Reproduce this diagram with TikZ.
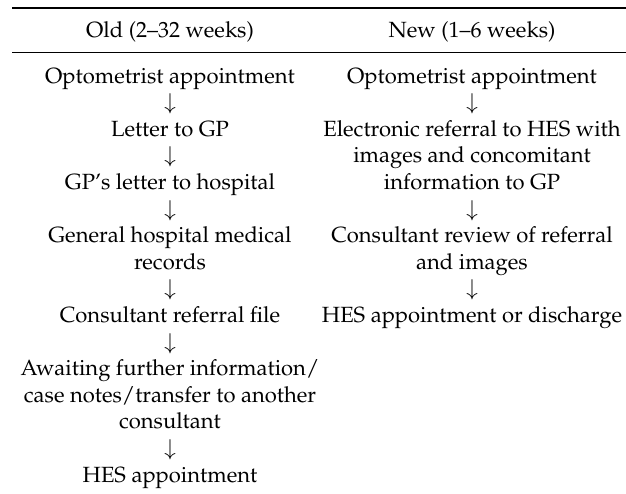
\documentclass[tikz,border=0pt]{standalone}
\usepackage[T1]{fontenc}
\usepackage{mathpazo}
\begin{document}
\begin{tikzpicture}[x=1pt,y=-1pt,
  txt/.style={anchor=base,inner sep=0pt,align=center,font=\fontsize{22}{26.6}\selectfont},
  arr/.style={anchor=base,inner sep=0pt,font=\fontsize{22}{26.6}\selectfont},
  toprule/.style={line width=2pt},
  midrule/.style={line width=1pt}]
\useasboundingbox (0,0) rectangle (626,493);
\coordinate (tl) at (12,8);
\coordinate (tr) at (626,8);
\coordinate (ml) at (12,52);
\coordinate (mr) at (626,52);
\draw[toprule] (tl) -- (tr);
\draw[midrule] (ml) -- (mr);
\node[txt] (hold) at (170,37) {Old (2--32 weeks)};
\node[txt] (hnew) at (472,37) {New (1--6 weeks)};
% old column (multi-line nodes are placed by their last baseline)
\node[txt] (o1) at (170,83) {Optometrist appointment};
\node[arr] (oa1) at (170,109.6) {$\downarrow$};
\node[txt] (o2) at (170,136.2) {Letter to GP};
\node[arr] (oa2) at (170,162.8) {$\downarrow$};
\node[txt] (o3) at (170,189.4) {GP's letter to hospital};
\node[arr] (oa3) at (170,216) {$\downarrow$};
\node[txt] (o4) at (170,269.2) {General hospital medical\\records};
\node[arr] (oa4) at (170,295.8) {$\downarrow$};
\node[txt] (o5) at (170,322.4) {Consultant referral file};
\node[arr] (oa5) at (170,349) {$\downarrow$};
\node[txt] (o6) at (170,428.8) {Awaiting further information/\\case notes/transfer to another\\consultant};
\node[arr] (oa6) at (170,455.4) {$\downarrow$};
\node[txt] (o7) at (170,482) {HES appointment};
% new column
\node[txt] (n1) at (472,83) {Optometrist appointment};
\node[arr] (na1) at (472,109.6) {$\downarrow$};
\node[txt] (n2) at (472,189.4) {Electronic referral to HES with\\images and concomitant\\information to GP};
\node[arr] (na2) at (472,216) {$\downarrow$};
\node[txt] (n3) at (472,269.2) {Consultant review of referral\\and images};
\node[arr] (na3) at (472,295.8) {$\downarrow$};
\node[txt] (n4) at (472,322.4) {HES appointment or discharge};
\end{tikzpicture}
\end{document}
